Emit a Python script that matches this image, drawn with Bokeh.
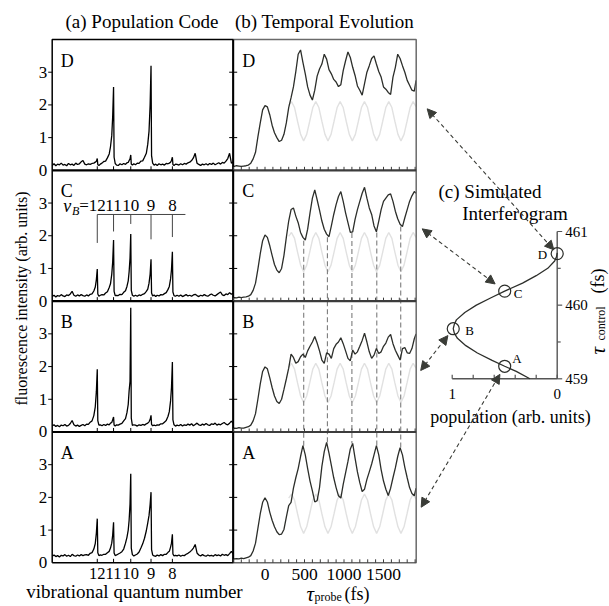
import math
from bokeh.plotting import figure
from bokeh.models import Range1d, Arrow, NormalHead
from bokeh.core.properties import value
from bokeh.embed import file_html
from bokeh.resources import INLINE

# ------------------------------------------------------------------ data
panel_labels = ["A", "B", "C", "D"]            # bottom -> top
intensity_ticks = [0, 1, 2, 3]

# (a) population code: fluorescence spectra (x = detector channel, 0..100)
vib_labels = ["12", "11", "10", "9", "8"]
vib_channel = [24.9, 33.9, 43.4, 54.6, 66.4]
vB_line_top = 2.65
vB_line_end = [1.78, 2.13, 2.36, 1.89, 1.96]
vB_line_right = 73.6

spec_x = [0, 1, 2, 3, 4, 5, 6, 7, 8, 9, 10, 11, 12, 13, 14, 15, 16, 17, 18,
          19, 20, 21, 22, 23, 23.8, 24.4, 24.9, 25.2, 25.8, 26.6,
          27.5, 28.5, 29.5, 30.5, 31.5, 32.2, 32.9, 33.4, 33.9, 34.2, 34.8, 35.6,
          36.5, 37.5, 38.5, 39.5, 40.5, 41.3, 42.0, 42.5, 43.0, 43.4, 43.7, 44.3, 45.1,
          46, 47, 48, 49, 50, 51, 52, 52.8, 53.5, 54.1, 54.6, 54.9, 55.5, 56.3,
          57.2, 58, 59, 60, 61, 62, 63, 64, 64.7, 65.4, 65.9, 66.4, 66.7, 67.3, 68.1,
          69, 70, 71, 72, 73, 74, 75, 76, 77, 78, 79, 80, 81, 82, 83, 84, 85, 86, 87,
          88, 89, 90, 91, 92, 93, 94, 95, 96, 97, 98, 99, 100]

spec_D = [0.15, 0.20, 0.14, 0.19, 0.17, 0.22, 0.16, 0.18, 0.14, 0.21, 0.17, 0.19, 0.15, 0.22, 0.18, 0.20, 0.26, 0.30, 0.19,
          0.17, 0.20, 0.18, 0.21, 0.22, 0.25, 0.28, 0.36, 0.17, 0.15, 0.19,
          0.22, 0.27, 0.28, 0.38, 0.50, 0.72, 1.06, 1.62, 2.55, 0.40, 0.21, 0.16,
          0.15, 0.20, 0.17, 0.21, 0.18, 0.23, 0.24, 0.30, 0.35, 0.47, 0.19, 0.16, 0.20,
          0.17, 0.22, 0.21, 0.28, 0.29, 0.40, 0.52, 0.80, 1.20, 2.00, 3.20, 0.45, 0.22, 0.16,
          0.19, 0.15, 0.20, 0.17, 0.19, 0.16, 0.21, 0.20, 0.22, 0.25, 0.30, 0.40, 0.18, 0.15, 0.19,
          0.18, 0.16, 0.20, 0.17, 0.21, 0.19, 0.23, 0.25, 0.30, 0.38, 0.52, 0.22, 0.18, 0.15, 0.19, 0.17,
          0.20, 0.16, 0.21, 0.18, 0.22, 0.17, 0.20, 0.23, 0.19, 0.24, 0.22, 0.28, 0.36, 0.52, 0.22, 0.25]

spec_C = [0.14, 0.18, 0.13, 0.17, 0.15, 0.20, 0.16, 0.14, 0.19, 0.17, 0.22, 0.30, 0.18, 0.15, 0.19, 0.16, 0.20, 0.17, 0.15,
          0.19, 0.16, 0.21, 0.22, 0.31, 0.43, 0.66, 0.98, 0.22, 0.15, 0.18,
          0.20, 0.19, 0.25, 0.29, 0.42, 0.53, 0.82, 1.18, 1.87, 0.30, 0.17, 0.18,
          0.17, 0.21, 0.20, 0.27, 0.32, 0.45, 0.62, 0.90, 1.32, 2.05, 0.33, 0.18, 0.15,
          0.18, 0.15, 0.19, 0.17, 0.21, 0.23, 0.30, 0.37, 0.55, 0.82, 1.28, 0.25, 0.16, 0.19,
          0.14, 0.18, 0.16, 0.20, 0.19, 0.23, 0.26, 0.36, 0.45, 0.68, 0.96, 1.51, 0.28, 0.17, 0.15,
          0.18, 0.15, 0.19, 0.14, 0.17, 0.20, 0.16, 0.18, 0.15, 0.19, 0.21, 0.17, 0.14, 0.18, 0.16, 0.20,
          0.17, 0.15, 0.19, 0.22, 0.18, 0.16, 0.20, 0.24, 0.28, 0.19, 0.17, 0.22, 0.20, 0.26, 0.21, 0.24]

spec_B = [0.18, 0.22, 0.17, 0.20, 0.16, 0.21, 0.19, 0.23, 0.18, 0.20, 0.26, 0.35, 0.22, 0.18, 0.21, 0.17, 0.20, 0.23, 0.19,
          0.24, 0.23, 0.30, 0.34, 0.50, 0.77, 1.24, 1.92, 0.35, 0.21, 0.22,
          0.19, 0.23, 0.20, 0.24, 0.22, 0.27, 0.29, 0.37, 0.46, 0.21, 0.18, 0.22,
          0.21, 0.24, 0.26, 0.34, 0.41, 0.59, 0.84, 1.26, 1.55, 3.80, 0.42, 0.20, 0.22,
          0.21, 0.18, 0.22, 0.20, 0.23, 0.21, 0.25, 0.27, 0.31, 0.38, 0.51, 0.23, 0.19, 0.21,
          0.19, 0.22, 0.21, 0.25, 0.25, 0.30, 0.35, 0.48, 0.62, 0.95, 1.35, 2.14, 0.37, 0.22, 0.18,
          0.21, 0.19, 0.23, 0.18, 0.22, 0.20, 0.24, 0.21, 0.25, 0.19, 0.23, 0.27, 0.22, 0.20, 0.24, 0.21,
          0.26, 0.22, 0.20, 0.25, 0.23, 0.27, 0.21, 0.24, 0.22, 0.26, 0.29, 0.24, 0.22, 0.27, 0.33, 0.26]

spec_A = [0.20, 0.24, 0.19, 0.22, 0.18, 0.23, 0.21, 0.25, 0.20, 0.23, 0.19, 0.26, 0.22, 0.20, 0.24, 0.21, 0.25, 0.22, 0.24,
          0.25, 0.23, 0.29, 0.31, 0.42, 0.59, 0.91, 1.35, 0.31, 0.22, 0.24,
          0.23, 0.26, 0.26, 0.31, 0.35, 0.45, 0.60, 0.84, 1.24, 0.30, 0.22, 0.24,
          0.27, 0.30, 0.34, 0.42, 0.60, 0.78, 1.00, 1.30, 1.80, 2.72, 0.45, 0.25, 0.21,
          0.24, 0.27, 0.33, 0.45, 0.58, 0.75, 0.98, 1.22, 1.45, 1.78, 2.16, 0.40, 0.24, 0.21,
          0.20, 0.24, 0.21, 0.25, 0.22, 0.26, 0.26, 0.32, 0.35, 0.48, 0.60, 0.87, 0.27, 0.21, 0.23,
          0.21, 0.24, 0.20, 0.23, 0.22, 0.26, 0.29, 0.33, 0.38, 0.45, 0.56, 0.30, 0.24, 0.21, 0.25, 0.22,
          0.20, 0.24, 0.21, 0.23, 0.20, 0.25, 0.22, 0.24, 0.21, 0.26, 0.23, 0.25, 0.22, 0.28, 0.35, 0.27]

# (b) temporal evolution: signal vs probe delay (fs)
probe_t = [-400, -390, -360, -330, -300, -270, -240, -210, -180, -150, -120, -90, -60, -30,
           0, 30, 60, 90, 120, 150, 180, 210, 240, 270, 300,
           330, 360, 390, 420, 450, 480, 510, 540, 570, 600,
           630, 660, 690, 720, 750, 780, 810, 840, 870, 900,
           930, 960, 990, 1020, 1050, 1080, 1110, 1140, 1170, 1200,
           1230, 1260, 1290, 1320, 1350, 1380, 1410, 1440, 1470, 1500,
           1530, 1560, 1590, 1620, 1650, 1680, 1710, 1740, 1770, 1800,
           1830, 1860, 1890, 1912]

probe_D = [0.13, 0.12, 0.14, 0.13, 0.12, 0.13, 0.14, 0.16, 0.22, 0.35, 0.55, 1.02, 1.45, 1.85,
           1.98, 1.94, 1.70, 1.38, 1.15, 1.00, 0.88, 0.92, 1.10, 1.45, 1.92,
           2.22, 2.55, 3.02, 3.55, 3.68, 3.30, 2.95, 2.55, 2.30, 2.15,
           2.45, 2.88, 3.10, 3.25, 3.55, 3.40, 3.08, 2.95, 2.78, 2.70,
           2.56, 2.62, 3.05, 3.35, 3.62, 3.45, 3.15, 2.90, 2.58, 2.45,
           2.30, 2.65, 3.00, 3.20, 3.42, 3.50, 3.25, 3.02, 2.85, 2.55,
           2.48, 2.38, 2.32, 2.85, 3.15, 3.55, 3.42, 3.20, 3.00, 2.75,
           2.60, 2.45, 2.42, 2.75]

probe_C = [0.10, 0.11, 0.10, 0.12, 0.11, 0.12, 0.13, 0.15, 0.20, 0.33, 0.55, 0.98, 1.45, 1.85,
           2.02, 1.95, 1.70, 1.40, 1.12, 0.95, 0.87, 1.00, 1.40, 1.95, 2.45,
           2.80, 2.85, 2.60, 2.40, 2.10, 1.95, 1.87, 2.20, 2.70, 3.15,
           3.40, 3.10, 2.78, 2.45, 2.20, 2.05, 1.97, 2.30, 2.65, 2.95,
           3.20, 3.35, 3.05, 2.70, 2.40, 2.10, 2.12, 2.50, 2.80, 3.05,
           3.30, 3.48, 3.15, 2.85, 2.65, 2.30, 2.12, 2.45, 2.80, 3.05,
           3.15, 3.25, 3.28, 3.05, 2.75, 2.52, 2.35, 2.28, 2.55, 2.80,
           3.05, 3.22, 3.35, 3.30]

probe_B = [0.11, 0.12, 0.11, 0.13, 0.12, 0.12, 0.14, 0.16, 0.21, 0.34, 0.56, 1.00, 1.47, 1.85,
           1.99, 1.93, 1.66, 1.36, 1.10, 0.93, 0.87, 1.00, 1.30, 1.62, 1.95,
           2.38, 2.28, 2.10, 2.15, 2.30, 2.38, 2.28, 2.48, 2.62, 2.75,
           2.92, 2.72, 2.48, 2.20, 2.10, 2.42, 2.38, 2.25, 2.55, 2.68,
           2.75, 2.88, 2.70, 2.48, 2.25, 2.18, 2.50, 2.38, 2.45, 2.62,
           2.80, 3.02, 2.75, 2.45, 2.25, 2.35, 2.55, 2.40, 2.45, 2.62,
           2.72, 2.90, 2.98, 2.70, 2.50, 2.35, 2.20, 2.55, 2.58, 2.42,
           2.40, 2.55, 2.85, 3.00]

probe_A = [0.12, 0.12, 0.13, 0.12, 0.14, 0.13, 0.15, 0.17, 0.22, 0.36, 0.60, 1.05, 1.50, 1.85,
           1.99, 1.86, 1.55, 1.30, 1.10, 0.95, 0.86, 0.88, 1.02, 1.40, 1.75,
           1.85, 2.28, 2.60, 2.88, 3.25, 3.58, 3.30, 2.88, 2.50, 2.20,
           1.86, 1.90, 2.30, 2.95, 3.40, 3.68, 3.35, 2.98, 2.60, 2.30,
           2.05, 1.98, 2.40, 2.75, 3.10, 3.48, 3.65, 3.20, 2.78, 2.45,
           2.18, 2.25, 2.55, 2.78, 3.02, 3.30, 3.58, 3.30, 2.85, 2.50,
           2.25, 2.06, 2.28, 2.60, 2.90, 3.25, 3.52, 3.30, 2.92, 2.60,
           2.30, 2.12, 2.05, 2.28]

# light grey reference oscillation (same in every panel)
sim_t = [300, 335, 374, 412, 451, 489, 528, 566, 605, 643, 682, 720, 759, 797, 836, 874, 913, 951,
         990, 1028, 1067, 1105, 1144, 1182, 1221, 1259, 1298, 1336, 1375, 1413, 1452, 1490, 1529, 1567,
         1606, 1644, 1683, 1721, 1760, 1798, 1837, 1875, 1912]
sim_y = [1.98, 2.10, 1.92, 1.50, 1.10, 0.90, 1.10, 1.50, 1.92, 2.10, 1.92, 1.50, 1.10, 0.90, 1.10, 1.50, 1.92, 2.10,
         1.92, 1.50, 1.10, 0.90, 1.10, 1.50, 1.92, 2.10, 1.92, 1.50, 1.10, 0.90, 1.10, 1.50, 1.92, 2.10,
         1.92, 1.50, 1.10, 0.90, 1.10, 1.50, 1.92, 2.10, 1.95]

probe_ticks = [0, 500, 1000, 1500]
probe_minor = [-400, -300, -200, -100, 0, 100, 200, 300, 400, 500, 600, 700, 800, 900,
               1000, 1100, 1200, 1300, 1400, 1500, 1600, 1700, 1800, 1900]
mark_t = [490, 790, 1100, 1415, 1718]
mark_top_C = [1.85, 1.95, 2.08, 2.10, 2.28]
mark_bottom_A = [3.58, 3.68, 3.65, 3.58, 3.52]

# (c) simulated interferogram
ctrl_tau = [459.0, 459.1, 459.17, 459.25, 459.35, 459.45, 459.55, 459.62, 459.68, 459.74, 459.8,
            459.9, 460.0, 460.1, 460.19, 460.3, 460.4, 460.5, 460.6, 460.66, 460.71]
ctrl_pop = [0.26, 0.39, 0.50, 0.62, 0.76, 0.87, 0.95, 0.98, 0.99, 0.98, 0.96,
            0.88, 0.77, 0.63, 0.50, 0.33, 0.20, 0.09, 0.024, 0.006, 0.0]
point_tau = [459.17, 459.68, 460.19, 460.70]     # A, B, C, D
point_pop = [0.50, 0.99, 0.50, 0.0]
tau_ticks = [459, 460, 461]
tau_minor = [459.5, 460.5]
pop_ticks = [0, 0.2, 0.4, 0.6, 0.8, 1.0]
pop_labels = [1, 0]
arrow_level = [1.70, 1.88, 2.21, 1.88]            # where each arrow meets panel (b), A..D

# ------------------------------------------------------------------ layout
W, H = 609, 606
FONT = value("Liberation Serif")


def fx(X):
    return X


def fy(Y):
    return H - Y


A_LEFT, AB_EDGE, B_RIGHT = 51.7, 232.7, 415.7
P_TOP, P_BOT = 39.0, 562.3
SPAN = 4.0
NP = 4
A0, A1 = 0.0, 100.0
T_ZERO_X, T_SCALE = 264.5, 0.079          # page x of 0 fs, px per fs
T0 = (AB_EDGE - T_ZERO_X) / T_SCALE
T1 = (B_RIGHT - T_ZERO_X) / T_SCALE
C_P1X, C_P0X = 451.7, 556.7
C_459Y, C_461Y = 378.3, 231.0

ka = (AB_EDGE - A_LEFT) / (A1 - A0)
kb = T_SCALE
ks = (P_BOT - P_TOP) / (SPAN * NP)
kcx = (C_P0X - C_P1X)
kcy = (C_459Y - C_461Y) / 2.0


def lin_range(d0, d1, p0, p1, size):
    k = (p1 - p0) / (d1 - d0)
    s = d0 - p0 / k
    return Range1d(start=s, end=s + size / k)


p = figure(width=W, height=H, x_range=Range1d(0, W), y_range=Range1d(0, H),
           output_backend="svg", toolbar_location=None,
           x_axis_location=None, y_axis_location=None, min_border=0,
           outline_line_color=None, background_fill_color="white",
           border_fill_color="white")
p.xgrid.visible = False
p.ygrid.visible = False

p.extra_x_ranges = {
    "ax": lin_range(A0, A1, fx(A_LEFT), fx(AB_EDGE), W),
    "bx": lin_range(T0, T1, fx(AB_EDGE), fx(B_RIGHT), W),
    "cx": lin_range(1.0, 0.0, fx(C_P1X), fx(C_P0X), W),
}
p.extra_y_ranges = {
    "sy": lin_range(0.0, SPAN * NP, fy(P_BOT), fy(P_TOP), H),
    "cy": lin_range(459.0, 461.0, fy(C_459Y), fy(C_461Y), H),
}

BLACK = "#000000"
TRACE = "#2c2e2a"
FRAME_B = "#6a6a6a"
SEP_B = "#3c3c3c"
SIM = "#e1e1e1"
DASH = "#7c7c7c"
CAX = "#555555"
ARW = "#3a3c37"


def txt(x, y, s, size, xr="default", yr="default", align="left", baseline="middle",
        angle=0.0, style="normal", color=BLACK, dx=0, dy=0):
    p.text(x=x, y=y, text=s, text_font=FONT, text_font_size=f"{size}px",
           text_align=align, text_baseline=baseline, angle=angle,
           text_font_style=style, text_color=color, x_offset=dx, y_offset=dy,
           x_range_name=xr, y_range_name=yr)


offsets = [i * SPAN for i in range(NP)]

# ---------------------------------------------------------------- panel (a)
for ys, off in zip([spec_A, spec_B, spec_C, spec_D], offsets):
    p.line(spec_x, [v + off for v in ys], x_range_name="ax", y_range_name="sy",
           line_color=BLACK, line_width=1.3)

# v_B assignment comb in panel C
offC = offsets[2]
p.segment(x0=[vib_channel[0]], y0=[offC + vB_line_top], x1=[vB_line_right], y1=[offC + vB_line_top],
          x_range_name="ax", y_range_name="sy", line_color="#444444", line_width=1)
p.segment(x0=vib_channel, y0=[offC + vB_line_top] * 5, x1=vib_channel, y1=[offC + v for v in vB_line_end],
          x_range_name="ax", y_range_name="sy", line_color="#444444", line_width=1)
txt(vib_channel, [offC + 2.92] * 5, vib_labels, 17, "ax", "sy", align="center")
txt([vib_channel[0]], [offC + 2.92], ["="], 17, "ax", "sy", align="right", dx=-8.5)
txt([vib_channel[0]], [offC + 2.92], ["B"], 12, "ax", "sy", align="right", style="italic", dx=-18, dy=5)
txt([vib_channel[0]], [offC + 2.92], ["v"], 18, "ax", "sy", align="right", style="italic", dx=-26)

# frame
p.line([A0, A1, A1, A0, A0], [0, 0, SPAN * NP, SPAN * NP, 0], x_range_name="ax", y_range_name="sy",
       line_color=BLACK, line_width=1.5)
p.segment(x0=[A0] * 3, y0=offsets[1:], x1=[A1] * 3, y1=offsets[1:], x_range_name="ax", y_range_name="sy",
          line_color=BLACK, line_width=2.2)

# ticks (a)
ty = [off + v for off in offsets for v in intensity_ticks[1:]]
p.segment(x0=[A0] * len(ty), y0=ty, x1=[A0 - 4 / ka] * len(ty), y1=ty, x_range_name="ax", y_range_name="sy",
          line_color=BLACK, line_width=1)
p.segment(x0=[A1] * len(ty), y0=ty, x1=[A1 - 4 / ka] * len(ty), y1=ty, x_range_name="ax", y_range_name="sy",
          line_color=BLACK, line_width=1)
bx_a = [c for off in offsets for c in vib_channel]
by_a = [off for off in offsets for c in vib_channel]
p.segment(x0=bx_a, y0=by_a, x1=bx_a, y1=[v + 4 / ks for v in by_a], x_range_name="ax", y_range_name="sy",
          line_color=BLACK, line_width=1)

ly = [off + v for off in offsets for v in intensity_ticks]
lt = [str(v) for off in offsets for v in intensity_ticks]
txt([A0] * len(ly), ly, lt, 17, "ax", "sy", align="right", dx=-5)
txt(vib_channel, [0] * 5, vib_labels, 16.5, "ax", "sy", align="center", dy=11)
txt([A0] * NP, [off + SPAN for off in offsets], panel_labels, 18, "ax", "sy", dx=8.5, dy=21)

# ---------------------------------------------------------------- panel (b)
for off in offsets:
    p.line(sim_t, [v + off for v in sim_y], x_range_name="bx", y_range_name="sy",
           line_color=SIM, line_width=1.4)
p.segment(x0=mark_t, y0=[offsets[2] + v for v in mark_top_C], x1=mark_t,
          y1=[offsets[0] + v for v in mark_bottom_A], x_range_name="bx", y_range_name="sy",
          line_color=DASH, line_width=1.1, line_dash="5 3")
for ys, off in zip([probe_A, probe_B, probe_C, probe_D], offsets):
    p.line(probe_t, [v + off for v in ys], x_range_name="bx", y_range_name="sy",
           line_color=TRACE, line_width=1.3)

p.line([T0, T1, T1, T0], [SPAN * NP, SPAN * NP, 0, 0], x_range_name="bx", y_range_name="sy",
       line_color=FRAME_B, line_width=1.5)
p.segment(x0=[T0] * 3, y0=offsets[1:], x1=[T1] * 3, y1=offsets[1:], x_range_name="bx", y_range_name="sy",
          line_color=SEP_B, line_width=2.2)
p.line([T0, T0], [0, SPAN * NP], x_range_name="bx", y_range_name="sy", line_color=BLACK, line_width=2)
p.segment(x0=[T0] * len(ty), y0=ty, x1=[T0 + 4 / kb] * len(ty), y1=ty, x_range_name="bx", y_range_name="sy",
          line_color=BLACK, line_width=1)
mx = [t for off in offsets for t in probe_minor]
my = [off for off in offsets for t in probe_minor]
p.segment(x0=mx, y0=my, x1=mx, y1=[v + 3.5 / ks for v in my], x_range_name="bx", y_range_name="sy",
          line_color=SEP_B, line_width=1)
txt(probe_ticks, [0] * len(probe_ticks), [str(t) for t in probe_ticks], 17.5, "bx", "sy",
    align="center", dy=12)
txt([T0] * NP, [off + SPAN for off in offsets], panel_labels, 18, "bx", "sy", dx=9, dy=21)

# ---------------------------------------------------------------- panel (c)
p.segment(x0=[0, 1], y0=[459, 459], x1=[0, 0], y1=[461, 459], x_range_name="cx", y_range_name="cy",
          line_color=CAX, line_width=1.4)
p.segment(x0=[0] * 3, y0=tau_ticks, x1=[-5 / kcx] * 3, y1=tau_ticks, x_range_name="cx", y_range_name="cy",
          line_color=CAX, line_width=1.2)
p.segment(x0=[0] * 2, y0=tau_minor, x1=[-3.5 / kcx] * 2, y1=tau_minor, x_range_name="cx", y_range_name="cy",
          line_color=CAX, line_width=1.2)
p.segment(x0=pop_ticks, y0=[459] * 6, x1=pop_ticks, y1=[459 + 4 / kcy] * 6, x_range_name="cx",
          y_range_name="cy", line_color=CAX, line_width=1.2)
txt([0] * 3, tau_ticks, [str(t) for t in tau_ticks], 15, "cx", "cy", dx=8)
txt(pop_labels, [459] * 2, [str(v) for v in pop_labels], 15, "cx", "cy", align="center", dy=15)

p.line(ctrl_pop, ctrl_tau, x_range_name="cx", y_range_name="cy", line_color=TRACE, line_width=1.3)
p.scatter(point_pop, point_tau, marker="circle", size=12, fill_color=None, line_color=TRACE,
          line_width=1.2, x_range_name="cx", y_range_name="cy")
label_dx = [7.5, 12, 9, -10]
label_dy = [-7.5, 1.5, 2.5, 0.5]
label_al = ["left", "left", "left", "right"]
for i in range(4):
    txt([point_pop[i]], [point_tau[i]], [panel_labels[i]], 13, "cx", "cy",
        align=label_al[i], dx=label_dx[i], dy=label_dy[i])

# arrows joining panel (b) and the interferogram points
gap_b = [5.0, 4.5, 6.0, 11.0]
gap_c = [9.4, 8.7, 12.0, 5.0]
for i in range(4):
    Xb = B_RIGHT + gap_b[i]
    Yb = P_BOT - (offsets[i] + arrow_level[i]) * ks
    Xc = C_P0X - point_pop[i] * kcx
    Yc = C_459Y - (point_tau[i] - 459.0) * kcy
    dxv, dyv = Xb - Xc, Yb - Yc
    n = math.hypot(dxv, dyv)
    Xt, Yt = Xc + gap_c[i] * dxv / n, Yc + gap_c[i] * dyv / n
    p.add_layout(Arrow(
        start=NormalHead(size=9, fill_color=ARW, line_color=ARW, line_width=1),
        end=NormalHead(size=9, fill_color=ARW, line_color=ARW, line_width=1),
        x_start=fx(Xb), y_start=fy(Yb), x_end=fx(Xt), y_end=fy(Yt),
        line_color=ARW, line_width=1.1, line_dash="4 3"))

# ---------------------------------------------------------------- titles / labels
txt([fx(141.5)], [fy(21)], ["(a) Population Code"], 19, align="center")
txt([fx(324)], [fy(21)], ["(b) Temporal Evolution"], 19, align="center")
txt([fx(20.5)], [fy(298)], ["fluorescence intensity (arb. units)"], 16, align="center",
    angle=math.pi / 2)
txt([fx(134)], [fy(590.5)], ["vibrational quantum number"], 19, align="center")
txt([fx(313.5)], [fy(593)], ["\u03c4"], 21, align="right", baseline="alphabetic", style="italic")
txt([fx(314)], [fy(596.5)], ["probe"], 12, baseline="alphabetic")
txt([fx(344)], [fy(593)], ["(fs)"], 18, baseline="alphabetic")

txt([fx(438)], [fy(191)], ["(c) Simulated"], 19)
txt([fx(461.7)], [fy(212.5)], ["Interferogram"], 19)
txt([fx(510)], [fy(416.7)], ["population (arb. units)"], 18, align="center")
txt([fx(597)], [fy(354)], ["\u03c4"], 21, baseline="alphabetic", angle=math.pi / 2, style="italic")
txt([fx(600.5)], [fy(340)], ["control"], 12, baseline="alphabetic", angle=math.pi / 2)
txt([fx(597)], [fy(293)], ["(fs)"], 18, baseline="alphabetic", angle=math.pi / 2)

open("out.html", "w").write(file_html(p, INLINE))
